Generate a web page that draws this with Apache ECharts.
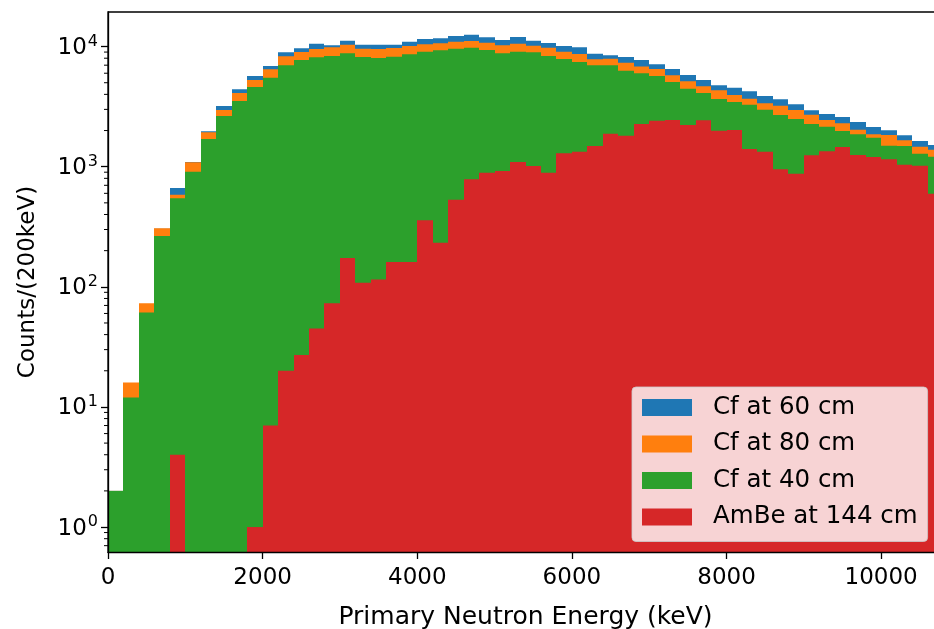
<!DOCTYPE html>
<html>
<head>
<meta charset="utf-8">
<script src="https://cdn.jsdelivr.net/npm/echarts@6/dist/echarts.min.js"></script>
<style>
  html, body { margin: 0; padding: 0; background: #ffffff; overflow: hidden; }
  #chart { width: 934px; height: 629px; }
</style>
</head>
<body>
<div id="chart"></div>
<script>
// Histogram binning (keV)
const BIN_WIDTH = 200;
const X_MIN = 0;
const X_MAX = 10800;
const X_TICK_STEP = 2000;

// Legend / series names, in drawing order
const seriesNames = ['Cf at 60 cm', 'Cf at 80 cm', 'Cf at 40 cm', 'AmBe at 144 cm'];
const seriesColors = ['#1f77b4', '#ff7f0e', '#2ca02c', '#d62728'];

// Counts per 200 keV bin, bins starting at 0, 200, 400, ... 10600 keV
const cf60 = [2, 15, 72, 305, 665, 1094, 1972, 3201, 4409, 5690,
  6890, 8970, 9680, 10570, 10260, 11200, 10370, 10370, 10370, 10980,
  11570, 11720, 12250, 12560, 11950, 11350, 12020, 11200, 10720, 10110,
  9860, 8730, 8470, 8190, 7730, 7120, 6510, 5800, 5270, 4760,
  4550, 4250, 3880, 3640, 3310, 2950, 2747, 2594, 2355, 2142,
  2009, 1823, 1637, 1517];
const cf80 = [2, 16, 73, 307, 585, 1090, 1932, 2966, 4110, 5270,
  6470, 8300, 9020, 9550, 9860, 10370, 9610, 9550, 9730, 10110,
  10450, 10650, 10980, 11140, 10770, 10250, 10570, 10180, 9790, 9070,
  8670, 7840, 7930, 7350, 6810, 6510, 5770, 5140, 4670, 4330,
  3960, 3680, 3370, 3220, 2966, 2710, 2449, 2298, 2033, 1861,
  1836, 1658, 1468, 1386];
const cf40 = [2, 12, 61, 265, 546, 908, 1701, 2644, 3524, 4610,
  5510, 6990, 7730, 8150, 8350, 8790, 8190, 8040, 8240, 8630,
  9070, 9310, 9610, 9790, 9370, 8790, 9070, 8970, 8350, 7890,
  7450, 6990, 6990, 6300, 5990, 5690, 5070, 4460, 4110, 3660,
  3460, 3280, 2985, 2694, 2495, 2268, 2153, 1982, 1861, 1745,
  1496, 1487, 1283, 1211];
const ambe144 = [0, 0, 0, 0, 4, 0, 0, 0, 0, 1,
  7, 20, 27, 45, 73, 174, 108, 115, 161, 161,
  358, 233, 531, 785, 891, 921, 1094, 1014, 891, 1292,
  1333, 1487, 1883, 1813, 2268, 2418, 2449, 2225, 2434, 1994,
  2022, 1404, 1334, 951, 875, 1244, 1344, 1459, 1250, 1205,
  1153, 1040, 1019, 596];

const seriesValues = [cf60, cf80, cf40, ambe144];

// Log-axis range and minor tick positions
const Y_MIN = 0.62;
const Y_MAX = 19400;
const minorMantissas = [2, 3, 4, 5, 6, 7, 8, 9];
const minorDecades = [0.1, 1, 10, 100, 1000];

const minorTickValues = [];
minorDecades.forEach(d => minorMantissas.forEach(m => {
  const v = m * d;
  if (v > Y_MIN && v < Y_MAX) minorTickValues.push(+v.toPrecision(6));
}));

const FONT = 'DejaVu Sans';

function binData(values) {
  const out = [];
  values.forEach((v, i) => {
    if (v > 0) out.push([X_MIN + i * BIN_WIDTH, X_MIN + (i + 1) * BIN_WIDTH, v]);
  });
  return out;
}

function renderBin(params, api) {
  const cs = params.coordSys;
  const top = api.coord([api.value(0), api.value(2)]);
  const right = api.coord([api.value(1), api.value(2)]);
  const x0 = Math.round(top[0]);
  const x1 = Math.round(right[0]);
  const bottom = cs.y + cs.height;
  const shape = echarts.graphic.clipRectByRect(
    { x: x0, y: top[1], width: x1 - x0, height: bottom - top[1] },
    { x: cs.x, y: cs.y, width: cs.width, height: cs.height }
  );
  if (!shape) return null;
  return { type: 'rect', shape: shape, style: { fill: api.visual('color') } };
}

function renderMinorTick(params, api) {
  const p = api.coord([X_MIN, api.value(1)]);
  return {
    type: 'line',
    shape: { x1: p[0] - 4, y1: p[1], x2: p[0], y2: p[1] },
    style: { stroke: '#000', lineWidth: 1 }
  };
}

const series = seriesNames.map((name, k) => ({
  name: name,
  type: 'custom',
  renderItem: renderBin,
  encode: { x: [0, 1], y: 2 },
  itemStyle: { color: seriesColors[k] },
  data: binData(seriesValues[k]),
  silent: true
}));

series.push({
  name: 'minorTicks',
  type: 'custom',
  renderItem: renderMinorTick,
  encode: { x: 0, y: 1 },
  data: minorTickValues.map(v => [X_MIN, v]),
  silent: true,
  z: 20
});

const chart = echarts.init(document.getElementById('chart'), null, { renderer: 'canvas' });

chart.setOption({
  animation: false,
  backgroundColor: '#ffffff',
  textStyle: { fontFamily: FONT },
  grid: {
    left: 108, width: 835, top: 12, bottom: 77,
    containLabel: false,
    outerBoundsMode: 'none',
    show: true, borderColor: '#000', borderWidth: 1.3, backgroundColor: 'transparent'
  },
  legend: {
    data: seriesNames,
    orient: 'vertical',
    left: 632,
    top: 387,
    z: 50,
    itemWidth: 50,
    itemHeight: 17,
    itemGap: 11.5,
    icon: 'rect',
    padding: [8, 10, 12, 10],
    backgroundColor: 'rgba(255,255,255,0.8)',
    borderColor: 'rgba(204,204,204,0.8)',
    borderWidth: 1,
    borderRadius: 4,
    formatter: name => '{t|' + name + '}',
    textStyle: {
      rich: { t: { fontFamily: FONT, fontSize: 24.5, color: '#000', padding: [0, 0, 0, 16], lineHeight: 24 } }
    }
  },
  xAxis: {
    type: 'value',
    min: X_MIN,
    max: X_MAX,
    interval: X_TICK_STEP,
    z: 10,
    name: 'Primary Neutron Energy (keV)',
    nameLocation: 'middle',
    nameGap: 53,
    nameTextStyle: { fontFamily: FONT, fontSize: 25, color: '#000' },
    axisLine: { show: true, onZero: false, lineStyle: { color: '#000', width: 1.3 } },
    axisTick: { show: true, length: 7, lineStyle: { color: '#000', width: 1.3 } },
    axisLabel: {
      showMaxLabel: false, margin: 15, fontFamily: FONT, fontSize: 23, color: '#000',
      formatter: v => String(v)
    },
    splitLine: { show: false }
  },
  yAxis: {
    type: 'log',
    logBase: 10,
    min: Y_MIN,
    max: Y_MAX,
    z: 10,
    name: 'Counts/(200keV)',
    nameLocation: 'middle',
    nameRotate: 90,
    nameGap: 68,
    nameTextStyle: { fontFamily: FONT, fontSize: 23, color: '#000' },
    axisLine: { show: true, onZero: false, lineStyle: { color: '#000', width: 1.3 } },
    axisTick: { show: true, length: 7, lineStyle: { color: '#000', width: 1.3 } },
    axisLabel: {
      showMinLabel: false,
      showMaxLabel: false,
      margin: 10,
      formatter: function (v) {
        const lv = Math.log10(v);
        const e = Math.round(lv);
        if (Math.abs(lv - e) > 1e-6) return '';
        return '{b|10}{s|' + e + '}';
      },
      rich: {
        b: { fontFamily: FONT, fontSize: 23, color: '#000', lineHeight: 26, verticalAlign: 'bottom' },
        s: { fontFamily: FONT, fontSize: 16, color: '#000', lineHeight: 26, verticalAlign: 'top', padding: [0, 0, 0, 1] }
      }
    },
    splitLine: { show: false },
    minorTick: { show: false }
  },
  series: series
});
</script>
</body>
</html>
